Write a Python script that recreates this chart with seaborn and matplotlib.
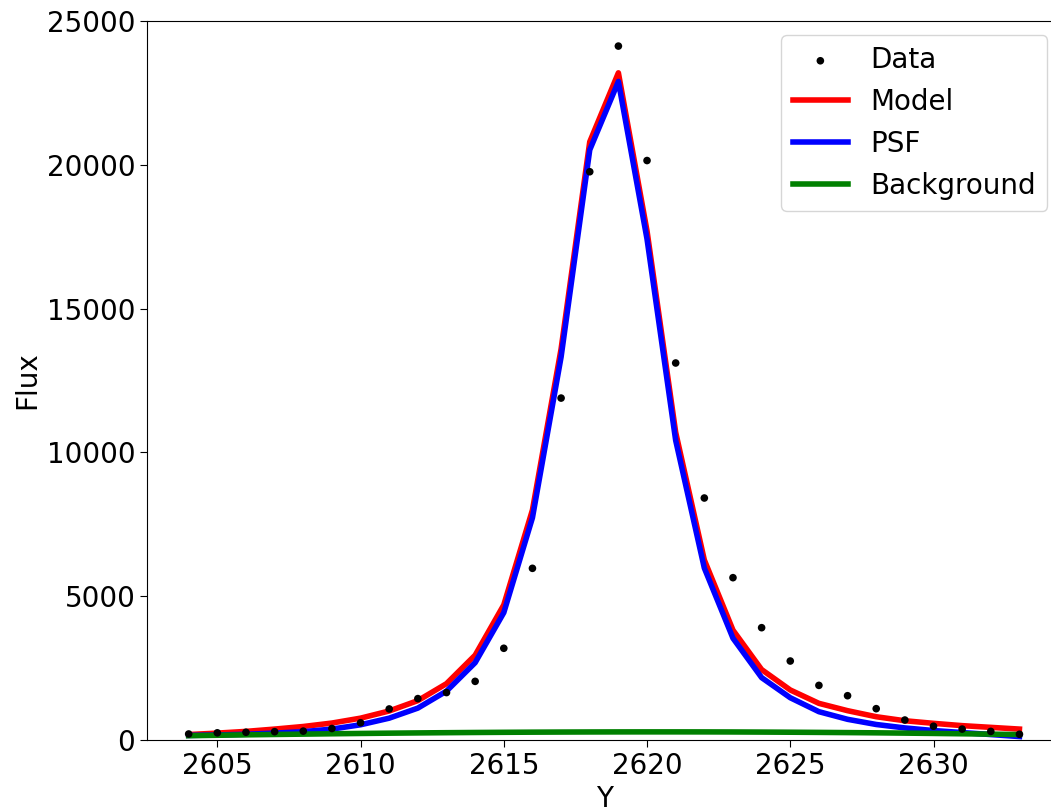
import matplotlib
matplotlib.use("Agg")
import matplotlib.pyplot as plt
import pandas as pd
import seaborn as sns

# Pixel positions along Y
pixel_y = list(range(2604, 2634))

# Measured flux (black dots)
data_flux = [210, 250, 270, 290, 310, 400, 600, 1080, 1440, 1650, 2040, 3190, 5970, 11890,
             19760, 24130, 20150, 13110, 8415, 5645, 3906, 2747, 1900, 1541, 1090, 695,
             480, 380, 300, 200]

# Fitted model (red)
model_flux = [190, 240, 300, 380, 470, 590, 760, 1010, 1370, 1960, 2950, 4700, 8000, 13600,
              20800, 23200, 17700, 10700, 6260, 3820, 2450, 1740, 1275, 1020, 810, 670,
              580, 500, 440, 380]

# PSF component (blue)
psf_flux = [160, 175, 200, 240, 290, 380, 530, 760, 1110, 1700, 2690, 4430, 7730, 13320,
            20520, 22900, 17420, 10420, 5980, 3540, 2170, 1470, 985, 720, 540, 420,
            330, 260, 190, 120]

# Background component (green)
bg_flux = [150, 165, 180, 193, 205, 217, 228, 238, 247, 255, 262, 268, 273, 277, 280, 282,
           283, 283, 282, 280, 276, 271, 265, 258, 250, 240, 229, 217, 204, 190]

df = pd.DataFrame({
    "Y": pixel_y,
    "Data": data_flux,
    "Model": model_flux,
    "PSF": psf_flux,
    "Background": bg_flux,
})

plt.rcParams["font.size"] = 20

fig, ax = plt.subplots(figsize=(10.51, 8.10), dpi=100)
# right edge of the axes sits just outside the picture, as in the cropped original
fig.subplots_adjust(left=0.140, right=1.0095, top=0.974, bottom=0.0864)

sns.scatterplot(data=df, x="Y", y="Data", ax=ax, color="black", s=30,
                edgecolor="none", label="Data", zorder=3)
sns.lineplot(data=df, x="Y", y="Model", ax=ax, color="red", linewidth=4, label="Model")
sns.lineplot(data=df, x="Y", y="PSF", ax=ax, color="blue", linewidth=4, label="PSF")
sns.lineplot(data=df, x="Y", y="Background", ax=ax, color="green", linewidth=4,
             label="Background")

ax.set_ylim(0, 25000)
ax.set_xlabel("Y", fontsize=20)
ax.set_ylabel("Flux", fontsize=20)
ax.tick_params(labelsize=20, length=5)
ax.legend(loc="upper right", fontsize=20)

fig.savefig("out.png", dpi=100)
